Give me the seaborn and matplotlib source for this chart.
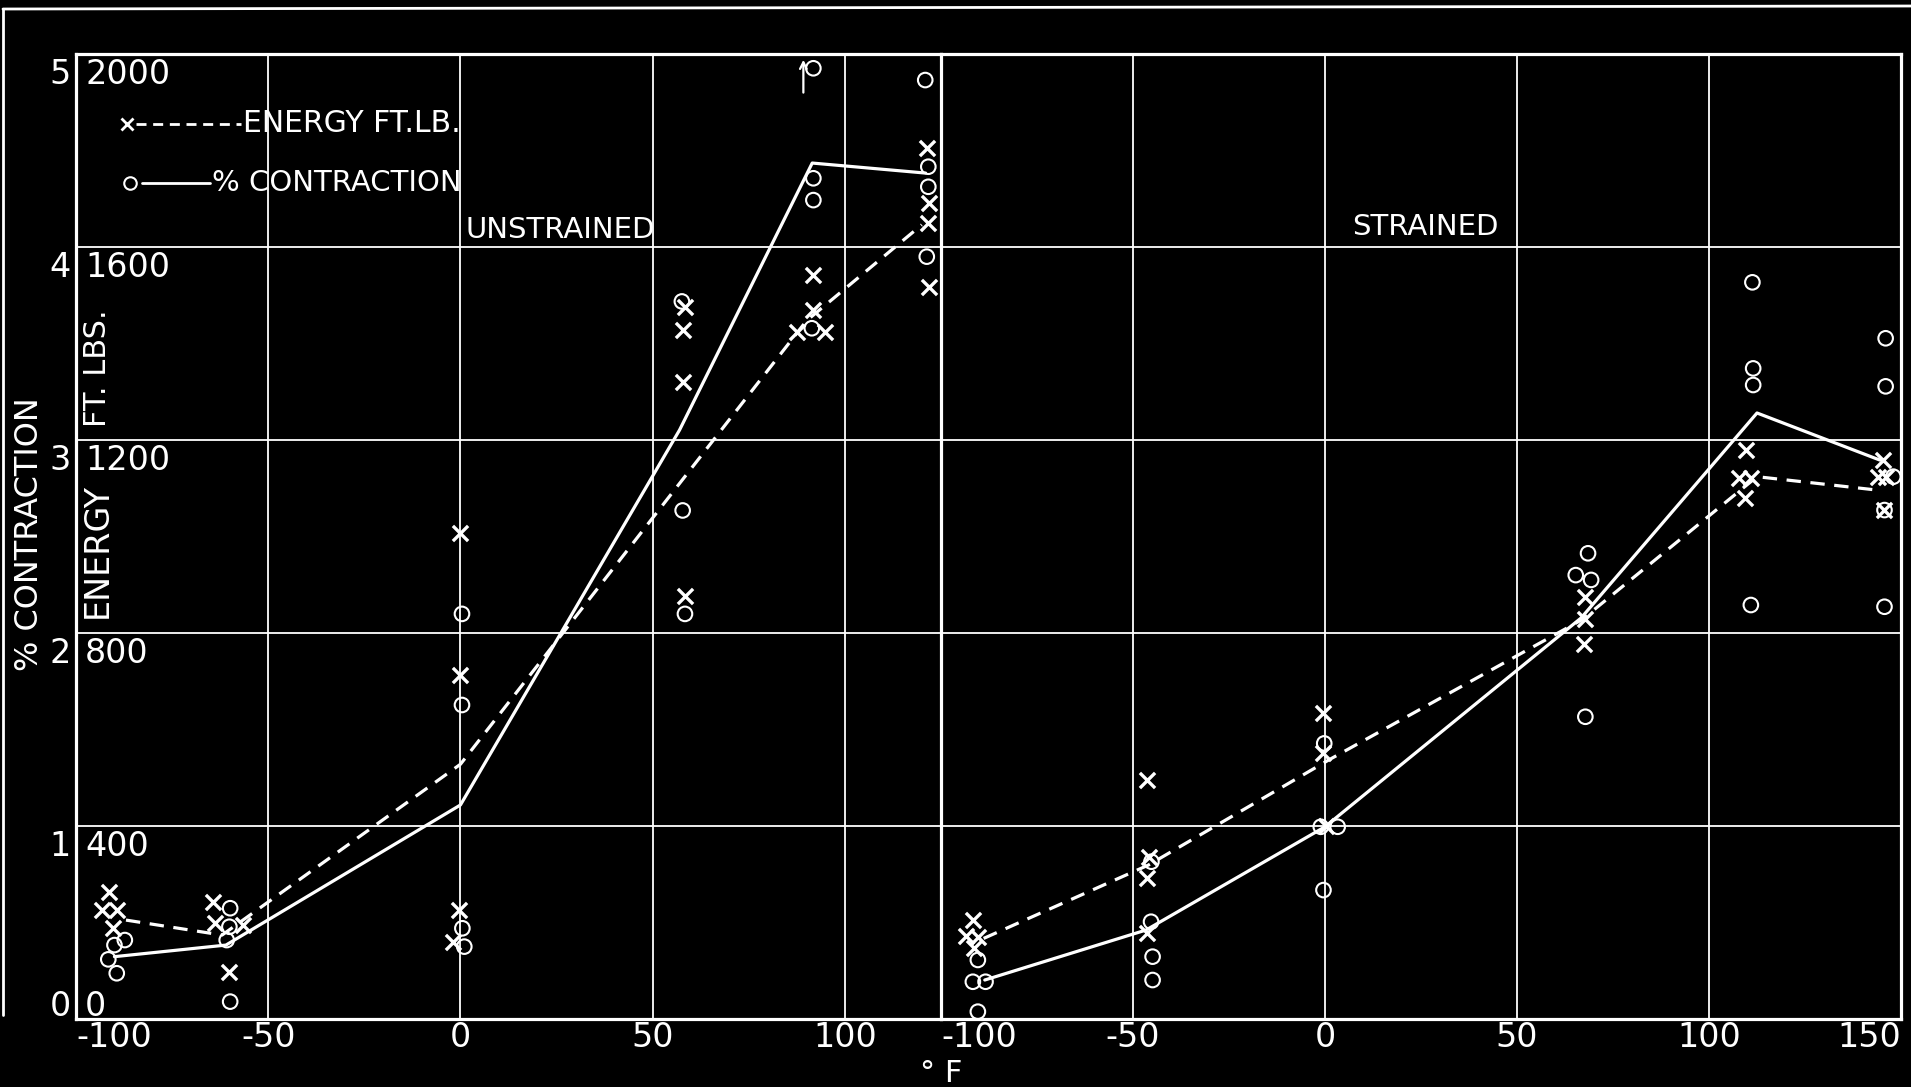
import matplotlib
matplotlib.use("Agg")
import matplotlib.pyplot as plt
import matplotlib.transforms as mtrans
from matplotlib.lines import Line2D
import seaborn as sns

# ---------------- data ----------------
energy_ticks = [0, 400, 800, 1200, 1600, 2000]
pct_ticks = [0, 1, 2, 3, 4, 5]
uns_xticks = [-100, -50, 0, 50, 100]
str_xticks = [-100, -50, 0, 50, 100, 150]

# UNSTRAINED - individual test results
uns_energy_t = [-91.3, -93.3, -89.3, -90.3, -64.3, -63.8, -56.6, -60.1,
                -0.1, -0.1, -0.3, -2.0, 58.4, 58.0, 58.0, 58.5,
                91.7, 91.7, 87.6, 94.8, 121.4, 122.0, 121.5, 122.0]
uns_energy_v = [264, 226, 226, 188, 243, 198, 195, 98,
                1007, 713, 226, 160, 1476, 1428, 1321, 877,
                1542, 1469, 1424, 1424, 1805, 1691, 1650, 1517]
uns_contr_t = [-87.3, -90.0, -91.6, -89.4, -59.9, -60.1, -60.8, -59.9,
               0.4, 0.4, 0.5, 1.0, 57.6, 57.8, 58.4,
               91.8, 91.8, 91.8, 91.4, 120.9, 121.7, 121.7, 121.3]
uns_contr_v = [0.409, 0.383, 0.309, 0.237, 0.574, 0.478, 0.409, 0.090,
               2.099, 1.627, 0.470, 0.375, 3.718, 2.635, 2.099,
               4.926, 4.356, 4.243, 3.579, 4.865, 4.416, 4.312, 3.950]
# UNSTRAINED - faired curves
uns_energy_line_t = [-87, -62, 0, 57, 90, 120]
uns_energy_line_v = [205, 174, 528, 1110, 1447, 1646]
uns_contr_line_t = [-90, -61, 0, 57, 91.5, 121]
uns_contr_line_v = [0.323, 0.383, 1.109, 3.052, 4.435, 4.383]
# off-scale marker (arrow beside the top point at about 90 F)
uns_offscale_t = 89.2
uns_offscale_v = (4.80, 4.97)

# STRAINED - individual test results
str_energy_t = [-91.6, -93.6, -90.3, -91.5, -46.4, -45.8, -46.4, -46.4,
                -0.6, -0.6, 0.3, 67.6, 67.6, 67.4,
                109.6, 107.9, 110.9, 109.4, 145.2, 144.1, 146.2, 145.7]
str_energy_v = [205, 172, 170, 148, 495, 336, 292, 179,
                634, 551, 399, 875, 830, 778,
                1179, 1121, 1121, 1080, 1159, 1124, 1124, 1054]
str_contr_t = [-90.4, -91.7, -88.4, -90.4, -45.2, -45.3, -44.9, -44.9,
               -0.2, -1.1, 3.3, -0.4, 68.5, 65.3, 69.3, 67.8,
               111.3, 111.5, 111.5, 110.9, 146.0, 146.0, 148.0, 145.7, 145.7]
str_contr_v = [0.306, 0.193, 0.193, 0.038, 0.815, 0.504, 0.323, 0.202,
               1.428, 0.996, 0.996, 0.668, 2.413, 2.300, 2.275, 1.566,
               3.817, 3.371, 3.285, 2.145, 3.527, 3.278, 2.810, 2.637, 2.136]
# STRAINED - faired curves
str_energy_line_t = [-88.9, -46, 1.0, 66.8, 112.5, 144]
str_energy_line_v = [167, 319, 537, 827, 1124, 1096]
str_contr_line_t = [-88.6, -46.6, 0, 66.7, 112.5, 144.5]
str_contr_line_v = [0.202, 0.461, 0.996, 2.078, 3.140, 2.896]

# ---------------- style ----------------
sns.set_theme(style="dark")
plt.rcParams.update({
    "figure.facecolor": "black",
    "axes.facecolor": "black",
    "axes.edgecolor": "white",
    "axes.labelcolor": "white",
    "text.color": "white",
    "xtick.color": "white",
    "ytick.color": "white",
    "grid.color": "white",
    "axes.axisbelow": True,
    "axes.unicode_minus": False,
})
plt.rcParams["font.family"] = ["DejaVu Sans"]

W, H = 1911, 1087
fig = plt.figure(figsize=(W / 100, H / 100), dpi=100, facecolor="black")
L, R = 76 / W, 1901 / W
T, B = 1 - 54 / H, 1 - 1019 / H
DIV = 941 / W
ax1 = fig.add_axes([L, B, DIV - L, T - B])
ax2 = fig.add_axes([DIV, B, R - DIV, T - B], sharey=ax1)

WHITE = "white"
DASH = (0, (4.5, 3.0))

panels = [
    (ax1, (-100, 125), uns_xticks, uns_energy_t, uns_energy_v, uns_contr_t, uns_contr_v,
     uns_energy_line_t, uns_energy_line_v, uns_contr_line_t, uns_contr_line_v),
    (ax2, (-100, 150), str_xticks, str_energy_t, str_energy_v, str_contr_t, str_contr_v,
     str_energy_line_t, str_energy_line_v, str_contr_line_t, str_contr_line_v),
]

twins = []
for (ax, xl, xt, et, ev, ct, cv, elt, elv, clt, clv) in panels:
    ax.set_facecolor("black")
    ax.set_xlim(*xl)
    ax.set_ylim(0, 2000)
    ax.set_xticks(xt)
    ax.set_xticklabels([str(v) for v in xt])
    ax.set_yticks(energy_ticks)
    ax.tick_params(axis="y", left=False, labelleft=False, length=0)
    ax.tick_params(axis="x", length=0, pad=1.5, labelsize=24, colors=WHITE)
    ax.grid(True, color=WHITE, lw=1.3)
    for s in ax.spines.values():
        s.set_color(WHITE)
        s.set_linewidth(2.3)
    ax.set_xlabel("")
    ax.set_ylabel("")

    tw = ax.twinx()
    tw.set_ylim(0, 5)
    tw.set_yticks([])
    tw.grid(False)
    for s in tw.spines.values():
        s.set_visible(False)
    twins.append(tw)

    # faired curves
    sns.lineplot(x=elt, y=elv, ax=ax, color=WHITE, lw=2.3, linestyle=DASH,
                 sort=False, estimator=None)
    sns.lineplot(x=clt, y=clv, ax=tw, color=WHITE, lw=2.3,
                 sort=False, estimator=None)
    # test points
    sns.scatterplot(x=et, y=ev, ax=ax, marker="x", color=WHITE, s=120,
                    linewidth=2.4, zorder=4)
    sns.scatterplot(x=ct, y=cv, ax=tw, marker="o", color=WHITE, facecolor="none",
                    edgecolor=WHITE, s=110, linewidth=1.5, zorder=4)
    tw.set_ylabel("")
    tw.set_xlabel("")

ax1.spines["right"].set_visible(False)

# off-scale arrow beside the top point
twins[0].annotate("", xy=(uns_offscale_t, uns_offscale_v[1]),
                  xytext=(uns_offscale_t, uns_offscale_v[0]),
                  arrowprops=dict(arrowstyle="->", color=WHITE, lw=1.6,
                                  shrinkA=0, shrinkB=0, mutation_scale=12))

# tick label alignment tweaks
ax1.xaxis.get_major_ticks()[0].label1.set_horizontalalignment("left")
ax2.xaxis.get_major_ticks()[0].label1.set_horizontalalignment("left")
ax2.xaxis.get_major_ticks()[-1].label1.set_horizontalalignment("right")

# y tick labels (energy inside the frame, % contraction outside)
tw1 = twins[0]
e_tr = mtrans.blended_transform_factory(ax1.transAxes, ax1.transData)
p_tr = mtrans.blended_transform_factory(ax1.transAxes, tw1.transData)
for v in energy_ticks:
    va = "baseline" if v == 0 else "top"
    dy = 3 if v == 0 else -4
    ax1.text(0, v, str(v), fontsize=24, ha="left", va=va,
             transform=mtrans.offset_copy(e_tr, fig=fig, x=9, y=dy, units="dots"))
for v in pct_ticks:
    va = "baseline" if v == 0 else "top"
    dy = 3 if v == 0 else -4
    ax1.text(0, v, str(v), fontsize=24, ha="right", va=va, clip_on=False,
             transform=mtrans.offset_copy(p_tr, fig=fig, x=-5, y=dy, units="dots"))

# axis titles
ax1.text(-0.0532, 0.5026, "% CONTRACTION", rotation=90, fontsize=23,
         ha="center", va="center", transform=ax1.transAxes, clip_on=False)
ax1.text(0.0243, 0.486, "ENERGY", rotation=90, fontsize=24,
         ha="center", va="center", transform=ax1.transAxes)
ax1.text(0.0243, 0.674, "FT. LBS.", rotation=90, fontsize=22,
         ha="center", va="center", transform=ax1.transAxes)
fig.text(941 / W, 1 - 1073 / H, "° F", fontsize=22, ha="center", va="center")

# panel titles
ax1.text(0.5595, 0.8176, "UNSTRAINED", fontsize=21, ha="center", va="center",
         transform=ax1.transAxes)
ax2.text(0.505, 0.8207, "STRAINED", fontsize=21, ha="center", va="center",
         transform=ax2.transAxes)

# hand-drawn style key
ky1, ky2 = 0.9275, 0.866
ax1.add_line(Line2D([0.059], [ky1], marker="x", ms=9, mew=2.0, color=WHITE,
                    transform=ax1.transAxes))
ax1.add_line(Line2D([0.069, 0.191], [ky1, ky1], lw=2.0, ls=(0, (3.6, 2.4)),
                    color=WHITE, transform=ax1.transAxes))
ax1.text(0.193, ky1, "ENERGY FT.LB.", fontsize=21.5, ha="left", va="center",
         transform=ax1.transAxes)
ax1.add_line(Line2D([0.062], [ky2], marker="o", ms=9, mew=1.5, mfc="none",
                    mec=WHITE, color=WHITE, transform=ax1.transAxes))
ax1.add_line(Line2D([0.076, 0.155], [ky2, ky2], lw=2.0, color=WHITE,
                    transform=ax1.transAxes))
ax1.text(0.157, ky2, "% CONTRACTION", fontsize=21, ha="left", va="center",
         transform=ax1.transAxes)

# outer photo border
fig.add_artist(Line2D([3 / W, 1.0], [1 - 9 / H, 1 - 6 / H], color=WHITE, lw=2.0,
                      transform=fig.transFigure))
fig.add_artist(Line2D([3 / W, 3 / W], [1 - 9 / H, 1 - 1015 / H], color=WHITE, lw=2.0,
                      transform=fig.transFigure))

fig.savefig("out.png", dpi=100, facecolor="black")
